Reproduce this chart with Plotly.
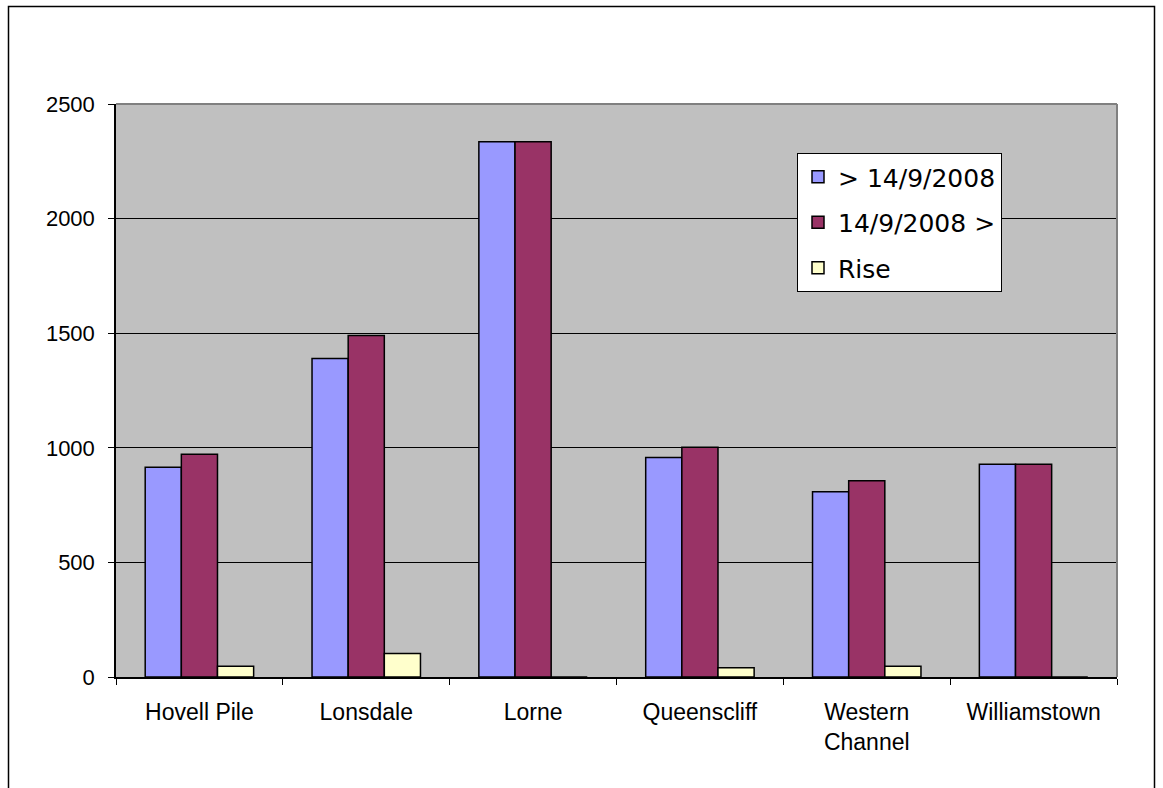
import plotly.graph_objects as go

categories = ["Hovell Pile", "Lonsdale", "Lorne", "Queenscliff", "Western<br>Channel", "Williamstown"]
before = [915, 1390, 2335, 958, 808, 928]
after = [972, 1490, 2335, 1002, 856, 928]
rise = [47, 103, 0, 40, 47, 0]
series_names = ["> 14/9/2008", "14/9/2008 >", "Rise"]
y_ticks = [0, 500, 1000, 1500, 2000, 2500]

W, H = 1163, 788
L, R, T, B = 116, 1117, 104, 677
pw, ph = R - L, B - T

font_family = "Liberation Sans, Arial, sans-serif"

fig = go.Figure()
colors = ["#9999FF", "#993366", "#FFFFCC"]
for name, vals, col in zip(series_names, [before, after, rise], colors):
    fig.add_trace(go.Bar(
        x=categories, y=vals, name=name, legendgroup=name,
        marker=dict(color=col, line=dict(color="black", width=1.5)),
    ))

fig.update_layout(
    width=W, height=H,
    margin=dict(l=L, r=W - R, t=T, b=H - B, pad=0),
    paper_bgcolor="white",
    plot_bgcolor="#C0C0C0",
    barmode="group",
    bargap=0.35,
    bargroupgap=0,
    font=dict(family=font_family, color="black", size=22),
    showlegend=True,
    legend=dict(
        x=(797 - L) / pw, y=(B - 153) / ph, xanchor="left", yanchor="top",
        bgcolor="white", bordercolor="black", borderwidth=1,
        font=dict(size=25, family="DejaVu Sans, sans-serif"),
        tracegroupgap=10, traceorder="grouped",
    ),
    shapes=[
        dict(
            type="rect", xref="paper", yref="paper",
            x0=(8.5 - L) / pw, x1=(1154.5 - L) / pw,
            y0=(B - 800) / ph, y1=(B - 6.5) / ph,
            line=dict(color="black", width=1.5), fillcolor="rgba(0,0,0,0)", layer="below",
        ),
        dict(type="line", xref="paper", yref="paper", x0=0, x1=1, y0=1, y1=1,
             line=dict(color="#808080", width=2), layer="above"),
        dict(type="line", xref="paper", yref="paper", x0=1, x1=1, y0=0, y1=1,
             line=dict(color="#808080", width=2), layer="above"),
    ],
)

fig.update_xaxes(
    showgrid=False, showline=True, linecolor="black", linewidth=1.5,
    ticks="outside", tickson="boundaries", ticklen=6, tickcolor="black", tickwidth=1,
    tickfont=dict(size=23), ticklabelstandoff=14,
)
fig.update_yaxes(
    range=[0, 2500], tickvals=y_ticks,
    showgrid=True, gridcolor="black", gridwidth=1.2,
    showline=True, linecolor="black", linewidth=1.5,
    ticks="outside", ticklen=6, tickcolor="black", tickwidth=1,
    tickfont=dict(size=22), ticklabelstandoff=9, zeroline=False,
)

fig.write_html(
    "out.html",
    config={"displayModeBar": False},
    post_script="document.body.style.margin='0';document.body.style.overflow='hidden';",
)
